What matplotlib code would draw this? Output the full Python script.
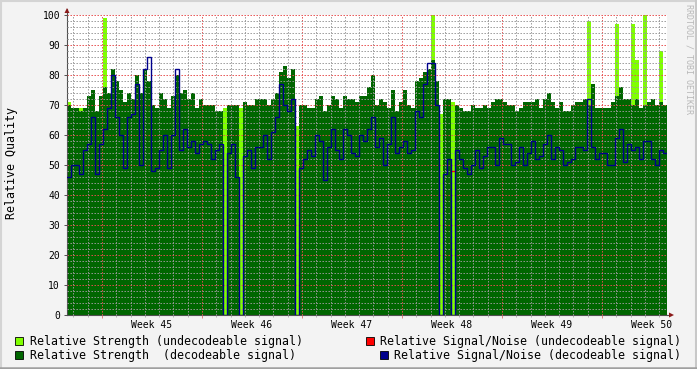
import numpy as np
import matplotlib
matplotlib.use("Agg")
import matplotlib.pyplot as plt
from matplotlib.patches import Rectangle, Polygon
from matplotlib.lines import Line2D

# ---------------- data (one value per ~6.7 h sample, 150 samples) ----------------
start_day = -2.45          # days relative to start of Week 45
sample_days = 0.28         # sample width in days

strength_decodeable = [
    70, 69, 69, 68, 69, 73, 75, 68, 73, 76, 74, 82, 78, 75, 71, 74, 72, 80, 74, 82, 78, 70, 69, 74, 72,
    69, 73, 80, 74, 75, 72, 74, 69, 72, 70, 70, 70, 68, 68, 0, 70, 70, 70, 0, 71, 70, 70, 72, 72, 72,
    70, 72, 74, 81, 83, 79, 82, 0, 70, 70, 69, 69, 72, 73, 68, 70, 73, 72, 69, 73, 72, 72, 71, 73, 73,
    76, 80, 70, 72, 71, 69, 75, 68, 71, 75, 70, 69, 78, 79, 81, 82, 85, 78, 0, 72, 72, 0, 70, 69, 68,
    68, 70, 69, 69, 70, 69, 71, 72, 72, 71, 70, 70, 68, 69, 71, 71, 71, 72, 69, 72, 74, 71, 69, 71, 68,
    68, 70, 71, 71, 72, 70, 77, 69, 69, 69, 69, 71, 73, 76, 72, 72, 70, 72, 69, 70, 71, 72, 70, 71, 70,
]

strength_undecodeable = [
    71, 0, 0, 69, 0, 0, 0, 0, 0, 99, 0, 0, 0, 0, 0, 0, 0, 0, 0, 0, 0, 0, 0, 0, 0,
    0, 0, 0, 0, 0, 0, 0, 0, 0, 0, 0, 0, 0, 0, 69, 0, 0, 0, 69, 0, 0, 0, 0, 0, 0,
    0, 0, 0, 0, 0, 0, 0, 63, 0, 0, 0, 0, 0, 0, 0, 0, 0, 0, 0, 0, 0, 0, 0, 0, 0,
    0, 0, 0, 0, 0, 0, 0, 0, 0, 0, 0, 0, 0, 0, 0, 0, 100, 0, 67, 0, 0, 71, 0, 0, 0,
    0, 0, 0, 0, 0, 0, 0, 0, 0, 0, 0, 0, 0, 0, 0, 0, 0, 0, 0, 0, 0, 0, 0, 0, 0,
    0, 0, 0, 0, 0, 98, 0, 0, 0, 0, 0, 0, 97, 0, 0, 0, 97, 85, 0, 100, 0, 0, 0, 88, 0,
]

snr_decodeable = [
    46, 50, 50, 47, 55, 57, 66, 47, 57, 62, 69, 80, 66, 60, 49, 66, 67, 77, 50, 82, 86, 48, 49, 55, 60,
    49, 60, 82, 55, 62, 56, 58, 54, 57, 58, 57, 52, 55, 57, 0, 54, 57, 46, 0, 53, 55, 49, 56, 56, 60,
    52, 61, 66, 77, 70, 68, 72, 0, 49, 52, 55, 53, 60, 58, 45, 56, 62, 55, 52, 62, 60, 54, 53, 60, 58,
    62, 66, 56, 59, 50, 57, 66, 54, 56, 58, 54, 55, 68, 66, 77, 84, 84, 70, 0, 47, 52, 0, 55, 52, 49,
    47, 50, 55, 49, 53, 56, 56, 50, 59, 57, 57, 50, 51, 56, 50, 54, 58, 52, 53, 57, 60, 52, 56, 55, 50,
    51, 52, 56, 56, 55, 72, 56, 52, 54, 54, 50, 50, 59, 62, 51, 57, 55, 56, 52, 58, 58, 52, 50, 55, 54,
]

nan = float("nan")
snr_undecodeable = [nan] * 150
snr_undecodeable[96] = 48

week_numbers = [45, 46, 47, 48, 49, 50]

legend_labels = [
    "Relative Strength (undecodeable signal)",
    "Relative Strength  (decodeable signal)",
    "Relative Signal/Noise (undecodeable signal)",
    "Relative Signal/Noise (decodeable signal)",
]

# ---------------- styling ----------------
W, H = 697, 369
BG = "#f3f3f3"
C_LIGHT = "#80ff00"
C_DARK = "#006600"
C_RED = "#ff0000"
C_BLUE = "#00008c"
MONO = "DejaVu Sans Mono"

fig = plt.figure(figsize=(W / 100, H / 100), dpi=100, facecolor=BG)
ax = fig.add_axes([67 / W, (H - 315) / H, 600 / W, 300 / H])
ax.set_facecolor("white")

n = len(strength_decodeable)
edges = start_day + sample_days * np.arange(n + 1)
xs = np.repeat(edges, 2)[1:-1]


def steps(vals):
    return np.repeat(np.asarray(vals, dtype=float), 2)


ax.fill_between(xs, 0, steps(strength_undecodeable), color=C_LIGHT, lw=0, zorder=1)
ax.fill_between(xs, 0, steps(strength_decodeable), color=C_DARK, lw=0, zorder=1.1)
ax.plot(xs, steps(snr_undecodeable), color=C_RED, lw=1.0, zorder=3)
ax.plot(xs, steps(snr_decodeable), color=C_BLUE, lw=1.0, zorder=3,
        solid_joinstyle="miter")

ax.set_xlim(edges[0], edges[-1])
ax.set_ylim(0, 100)

ax.set_xticks(np.arange(0, 36, 7))
ax.set_xticks(np.arange(-2, 40, 1), minor=True)
ax.set_yticks(np.arange(0, 101, 10))
ax.set_yticks(np.arange(0, 101, 2), minor=True)
ax.set_xticklabels([])
ax.set_yticklabels([str(v) for v in range(0, 101, 10)], fontsize=7, family=MONO)

ax.set_axisbelow(False)
ax.grid(which="minor", color=(0.6, 0.6, 0.6, 0.3), lw=0.72, ls=(0, (1.4, 1.6)))
ax.grid(which="major", color=(0.9, 0.3, 0.3, 0.3), lw=0.72, ls=(0, (1.4, 1.6)))

for s in ("top", "right"):
    ax.spines[s].set_visible(False)
for s in ("left", "bottom"):
    ax.spines[s].set_color("#505050")
    ax.spines[s].set_linewidth(0.8)

ax.tick_params(axis="y", which="major", length=2.5, width=0.7, color="#505050", pad=2.5)
ax.tick_params(axis="y", which="minor", length=0)
ax.tick_params(axis="x", which="major", length=2, width=0.7, color="#e08080")
ax.tick_params(axis="x", which="minor", length=1.5, width=0.7, color="#b0b0b0")

# axis extension lines and arrows
ax.add_line(Line2D([0, 0], [1, 1 + 6 / 300], transform=ax.transAxes, color="#505050",
                   lw=0.8, clip_on=False))
ax.add_line(Line2D([1, 1 + 4 / 600], [0, 0], transform=ax.transAxes, color="#505050",
                   lw=0.8, clip_on=False))


def figpt(x, y):
    return (x / W, 1 - y / H)


fig.add_artist(Polygon([figpt(64.5, 13), figpt(69.5, 13), figpt(67, 8)], closed=True,
                       transform=fig.transFigure, color="#8b1a1a", lw=0))
fig.add_artist(Polygon([figpt(669, 312.5), figpt(669, 317.5), figpt(674, 315)], closed=True,
                       transform=fig.transFigure, color="#8b1a1a", lw=0))

# week labels at mid-week
for i, wk in enumerate(week_numbers):
    xd = 7 * i + 3.5
    ax.text(xd, -(327.5 - 315) / 300, f"Week {wk}", transform=ax.get_xaxis_transform(),
            ha="center", va="baseline", fontsize=7, family=MONO, color="black")

# y label
fig.text(12 / W, 1 - 163 / H, "Relative Quality", rotation=90, ha="center", va="center",
         fontsize=8.4, family=MONO, color="black")

# watermark
fig.text(689 / W, 1 - 4 / H, "RRDTOOL / TOBI OETIKER", rotation=270, ha="center", va="top",
         fontsize=6, family=MONO, color="#b8b8b8")

# legend
legend_items = [
    (15, 337, C_LIGHT, 30, 344.5, legend_labels[0]),
    (15, 351, C_DARK, 30, 358.5, legend_labels[1]),
    (366, 337, C_RED, 380, 344.5, legend_labels[2]),
    (380, 351, C_BLUE, 394, 358.5, legend_labels[3]),
]
for bx, by, col, tx, ty, lab in legend_items:
    fig.add_artist(Rectangle(figpt(bx, by + 8), 8 / W, 8 / H, transform=fig.transFigure,
                             facecolor=col, edgecolor="black", lw=0.6))
    fig.text(tx / W, 1 - ty / H, lab, ha="left", va="baseline", fontsize=8.4,
             family=MONO, color="black")

# frame
fig.add_artist(Line2D([0, 1], [1 - 1 / H, 1 - 1 / H], transform=fig.transFigure,
                      color="#d4d4d4", lw=1.5))
fig.add_artist(Line2D([1 / W, 1 / W], [0, 1], transform=fig.transFigure,
                      color="#d4d4d4", lw=1.5))
fig.add_artist(Line2D([1 - 1 / W, 1 - 1 / W], [0, 1], transform=fig.transFigure,
                      color="#c8c8c8", lw=1.5))
fig.add_artist(Line2D([0, 1], [1.2 / H, 1.2 / H], transform=fig.transFigure,
                      color="#a0a0a0", lw=1.8))

fig.savefig("out.png", dpi=100, facecolor=BG)
